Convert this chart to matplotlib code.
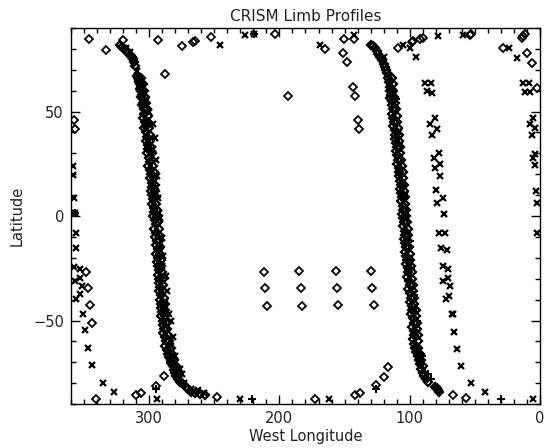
import matplotlib
matplotlib.use("Agg")
import matplotlib.pyplot as plt
from matplotlib.ticker import MultipleLocator

# ---------------- data (West longitude, latitude) ----------------
# Western limb profile (around 300 W)
limbA_diamond_lon = [322, 320.5, 319, 317, 316, 314.5, 313, 312, 311.5, 311,
                     309, 308.5, 307.5, 308, 307, 306.5, 307, 306, 305.5, 306.5,
                     305, 304.5, 305.5, 304, 303.5, 304.5, 303, 302.5, 303.5, 302,
                     301.5, 302.5, 301, 300.5, 301.5, 300, 299.5, 300.5, 299, 298.5,
                     299.5, 298, 297.5, 298.5, 297.5, 297, 298, 296.5, 296, 297,
                     295.5, 295, 296, 294.5, 295.5, 294, 295, 293.5, 294.5, 293,
                     294, 293, 292.5, 293.5, 292, 292.5, 291.5, 292, 291, 291.5,
                     290.5, 291, 290, 290.5, 289.5, 289, 288.5, 289, 288, 287,
                     287.5, 286, 285.5, 284.5, 283.5, 283, 282, 281, 280, 279,
                     277.5, 276, 274, 272, 270, 267.5, 264.5, 261, 257]
limbA_diamond_lat = [82, 81, 80, 79, 78, 77, 76, 75, 73.5, 72,
                     67, 66, 65, 64, 63, 62, 61, 60, 58, 57,
                     56, 54, 53, 51, 49, 47, 45, 43, 42, 40,
                     38, 36, 34, 32, 30, 28, 26, 24, 22, 20,
                     18, 16, 14, 12, 10, 8, 6, 4, 2, 0,
                     -2, -4, -6, -8, -10, -12, -14, -16, -18, -20,
                     -22, -24, -26, -28, -30, -32, -34, -36, -38, -40,
                     -42, -44, -46, -48, -50, -52, -54, -56, -58, -60,
                     -62, -64, -66, -67.5, -69, -70.5, -72, -73.5, -75, -76.5,
                     -78, -79.5, -80.5, -82, -83, -84, -84.5, -85, -85.5]
limbA_diamond2_lon = [306, 304.5, 303.5, 303, 302.5, 301.5, 301, 300.5, 300, 299.5,
                      299, 298.5, 298, 297.5, 297, 296.5, 296, 295.5, 295.5, 295,
                      294.5, 294, 294, 293, 292.5, 292.5, 292, 291.5, 291.5, 291,
                      290.5, 290, 289.5, 289, 289, 288.5, 288, 287.5, 287.5, 286.5,
                      286, 285.5, 284.5, 283.5, 282.5, 281, 279.5, 277.5]
limbA_diamond2_lat = [66, 63, 60, 57, 54, 51, 48, 45, 42, 39,
                      36, 33, 30, 27, 24, 21, 18, 15, 12, 9,
                      6, 3, 0, -3, -6, -9, -12, -15, -18, -21,
                      -24, -27, -30, -33, -36, -39, -42, -45, -48, -51,
                      -54, -57, -60, -63, -66, -69, -72, -75]
limbA_cross_lon = [318, 315, 313, 309.6, 306, 302, 300, 296.8, 295.5, 297,
                   294.8, 294.2, 295, 293, 292.2, 291.7, 290.4, 291.5, 289.1, 290,
                   287, 286.5, 288, 284.5, 283.4, 281.9, 283, 280.2, 276.3, 275,
                   276.8, 273, 268, 262.3, 258]
limbA_cross_lat = [80.5, 78.5, 76, 69.4, 63, 55, 50, 43.9, 37.5, 32,
                   27, 19, 14, 8.8, 1.6, -0.8, -10.4, -15, -19, -24,
                   -28.7, -35.9, -41, -47, -50, -58, -62, -67, -73.3, -75.7,
                   -78, -80, -83, -83.4, -84.5]
limbA_plus_lon = [298, 296, 293, 289, 284]
limbA_plus_lat = [30, 12, -20, -45, -70]

# Eastern limb profile (around 100 W)
limbB_diamond_lon = [130, 128.5, 127, 125.5, 124, 122.5, 121.5, 120, 119, 118,
                     117.5, 116.5, 116, 115.5, 115, 114.5, 115, 114, 113.5, 113,
                     113.5, 112.5, 112, 112.5, 111.5, 111, 111.5, 110.5, 110, 110.5,
                     109.5, 109, 109.5, 108.5, 108, 108.5, 107.5, 107, 107.5, 106.5,
                     106, 106.5, 105.5, 105, 106, 105, 104.5, 105.5, 104, 103.5,
                     104.5, 103.5, 103, 104, 102.5, 102, 103, 101.5, 101, 102,
                     100.5, 100, 101, 99.5, 99, 100, 98.5, 98, 99, 97.5,
                     97, 98, 97, 96.5, 97.5, 96.5, 96, 95, 94, 93,
                     92, 91, 90, 89, 87.5, 86, 80.6, 79, 78, 77.5]
limbB_diamond_lat = [82, 81.5, 80.5, 79, 77.5, 76, 74.5, 73, 71.5, 70,
                     68.5, 66, 64, 62, 60, 58, 56.5, 55, 53, 51,
                     49, 47, 45, 43, 41, 39, 37, 35, 33, 31,
                     29, 27, 25, 23, 21, 19, 17, 15, 13, 11,
                     9, 7, 5, 3, 1, -1, -3, -5, -7, -9,
                     -11, -13, -15, -17, -19, -21, -23, -25, -27, -29,
                     -31, -33, -35, -37, -39, -41, -43, -45, -47, -49,
                     -51, -53, -55, -57, -59, -61, -63, -65, -67, -69,
                     -71, -73, -75, -76.5, -78, -79.5, -81.8, -82.5, -83.4, -84]
limbB_diamond2_lon = [114, 113, 112.5, 112, 111.5, 110.5, 110, 109.5, 109, 108.5,
                      108, 107.5, 107.5, 106.5, 106, 105.5, 105, 104.5, 104.5, 103.5,
                      103.5, 103, 102.5, 102, 101.5, 101, 101, 100.5, 100, 99.5,
                      99, 98.5, 98.5, 97.5, 97.5, 96.5, 96.5, 95.5, 95.5, 94.5,
                      94.5, 94, 94, 93.5, 92.5, 91, 89.5]
limbB_diamond2_lat = [66, 63, 60, 57, 54, 51, 48, 45, 42, 39,
                      36, 33, 30, 27, 24, 21, 18, 15, 12, 9,
                      6, 3, 0, -3, -6, -9, -12, -15, -18, -21,
                      -24, -27, -30, -33, -36, -39, -42, -45, -48, -51,
                      -54, -57, -60, -63, -66, -69, -72]
limbB_cross_lon = [120, 113, 108, 104, 100, 96]
limbB_cross_lat = [76, 60, 40, 10, -20, -45]
limbB_plus_lon = [110.5, 108, 105, 102, 99.8, 99, 97, 94.6, 90.8, 85.7, 84]
limbB_plus_lat = [56, 35, 15, 0, -12, -25, -38, -50, -67, -75.7, -78]

# Scattered diamonds
scat_diamond_lon = [346, 333, 319.8, 322.4, 293, 288, 275, 266.1, 265, 252.5,
                    203.4, 193.4, 165, 151.5, 148.4, 150.2, 142.5, 143.3, 142, 139.5,
                    139, 108.8, 98.5, 97.5, 92, 89.6, 53.7, 52.8, 28.2, 14,
                    13, 11.5, 9.7, 5.9, 2.5,
                    357.6, 356.9, 348, 346.7, 345.4, 344.1, 340.8, 310.3, 306.2, 294.7,
                    288.4, 248.2, 172.7, 142, 138.2, 125.9, 119.7, 116.4, 66.5, 56.8]
scat_diamond_lat = [84.5, 79.4, 84.2, 81.7, 84.2, 68.1, 81.3, 83.4, 84, 85.6,
                    86.9, 57.4, 79.8, 77.8, 73.7, 84.5, 84.5, 61.9, 57.4, 45.9,
                    41.5, 80.5, 83.4, 84, 84.5, 85, 86.6, 87, 80.5, 85.3,
                    86, 87.2, 77.8, 73.4, 61.4,
                    45.9, 41.5, -26.6, -34.6, -42.7, -51.4, -87.7, -85.8, -84.8, -81.3,
                    -76.6, -86.4, -87.7, -85.8, -84.8, -81, -77, -72.2, -85.8, -86.9]

# Grid of diamonds in the southern mid-longitudes
grid_diamond_lon = [212, 211, 209.5, 185, 183.5, 183, 156.6, 156, 155, 129.7, 129, 127.5]
grid_diamond_lat = [-26.8, -34.4, -43, -26.3, -34.4, -43, -26.3, -34.4, -42.6, -26.3, -34.4, -42.6]

# Scattered crosses
scat_cross_lon = [319.3, 245.6, 226.4, 219.5, 168.9, 142.5, 104.9, 99.8, 95.2, 78,
                  58.9, 23.6, 17.9,
                  88.3, 83.9, 87, 83.1, 80.6, 84.4, 79.3, 83.1, 77.3, 81.4, 76.8, 80.6,
                  76.8, 79.8, 74.7, 78.8, 73.7, 77.3, 72.9, 76.2, 71.6, 74.7, 70.4,
                  74.2, 70.8, 69.1, 72.4, 69.6, 67.8, 66.5, 66, 63.9, 60.6, 53, 42.2,
                  12.8, 8.2, 11.5, 7.7, 5.1, 7.7, 3.8, 6.4, 3.8, 5.1, 3.8, 3.1, 2.1, 2.5,
                  358.7, 358.2, 357.7, 357, 355.8, 355.8, 357.7, 353, 357, 352.6, 351.8,
                  352.6, 356.2, 350.5, 349.3, 346.7, 343.6, 335.7, 327,
                  294.2, 230.2, 161.7, 5.6]
scat_cross_lat = [80.5, 81.8, 86.6, 86.9, 82.1, 86.6, 81.8, 80.5, 76, 86,
                  86.6, 80.5, 75.7,
                  63.8, 63.8, 59.8, 59, 47, 43.9, 41.5, 39, 30.3, 27.9, 24.7, 23.1,
                  19.1, 12.3, 8.8, 6.1, 1.1, -8, -8.3, -15.2, -16.4, -23.9, -25.5,
                  -31.1, -29.8, -33.5, -39.6, -38.3, -46.7, -46.7, -55.4, -63.5, -71.8, -80, -84.2,
                  63.8, 63.8, 59.5, 59.5, 47, 43.9, 42.2, 39, 29.8, 27.6, 24.4, 12, 6.4, -8,
                  23.9, 19.6, 8.8, 1.6, -8, -15.5, -24.4, -25.5, -31, -29.8, -33.5,
                  -37.5, -39.9, -46.7, -54.7, -63.3, -71.4, -79.7, -84,
                  -87.4, -87.4, -87.4, -87.4]

# Scattered plus signs
scat_plus_lon = [219.5, 294.7, 221, 125.9, 29.9, 357]
scat_plus_lat = [86.9, -82.9, -87.7, -82.9, -87.7, 1.6]

# ---------------- figure ----------------
plt.rcParams['font.family'] = ['DejaVu Sans']
fig = plt.figure(figsize=(5.45, 4.48), dpi=100)
ax = fig.add_axes([0.130, 0.098, 0.861, 0.8395])

dkw = dict(linestyle='none', marker='D', markersize=4.0, markerfacecolor='none',
           markeredgecolor='black', markeredgewidth=1.3)
dkw_dense = dict(dkw, markeredgewidth=1.6)
xkw = dict(linestyle='none', marker='x', markersize=5.0, color='black', markeredgewidth=1.6)
pkw = dict(linestyle='none', marker='+', markersize=5.5, color='black', markeredgewidth=1.5)

for lon, lat in [(limbA_diamond_lon, limbA_diamond_lat), (limbB_diamond_lon, limbB_diamond_lat),
                 (limbA_diamond2_lon, limbA_diamond2_lat), (limbB_diamond2_lon, limbB_diamond2_lat)]:
    ax.plot(lon, lat, **dkw_dense)
for lon, lat in [(scat_diamond_lon, scat_diamond_lat), (grid_diamond_lon, grid_diamond_lat)]:
    ax.plot(lon, lat, **dkw)
for lon, lat in [(limbA_cross_lon, limbA_cross_lat), (limbB_cross_lon, limbB_cross_lat),
                 (scat_cross_lon, scat_cross_lat)]:
    ax.plot(lon, lat, **xkw)
for lon, lat in [(limbA_plus_lon, limbA_plus_lat), (limbB_plus_lon, limbB_plus_lat),
                 (scat_plus_lon, scat_plus_lat)]:
    ax.plot(lon, lat, **pkw)

ax.set_xlim(360, 0)
ax.set_ylim(-90, 90)
ax.xaxis.set_major_locator(MultipleLocator(100))
ax.xaxis.set_minor_locator(MultipleLocator(10))
ax.yaxis.set_major_locator(MultipleLocator(50))
ax.yaxis.set_minor_locator(MultipleLocator(10))
ax.tick_params(which='both', direction='in', top=True, right=True, width=1.0, colors='black',
               labelsize=10.5, labelcolor='#222222')
ax.tick_params(which='major', length=6.5, pad=5)
ax.tick_params(which='minor', length=3.5)
for s in ax.spines.values():
    s.set_linewidth(1.0)

ax.set_xlabel('West Longitude', fontsize=10.5, color='#222222', labelpad=2)
ax.set_ylabel('Latitude', fontsize=10.5, color='#222222', labelpad=6)
ax.set_title('CRISM Limb Profiles', fontsize=11, color='#222222', pad=5)

fig.savefig('out.png', dpi=100)
